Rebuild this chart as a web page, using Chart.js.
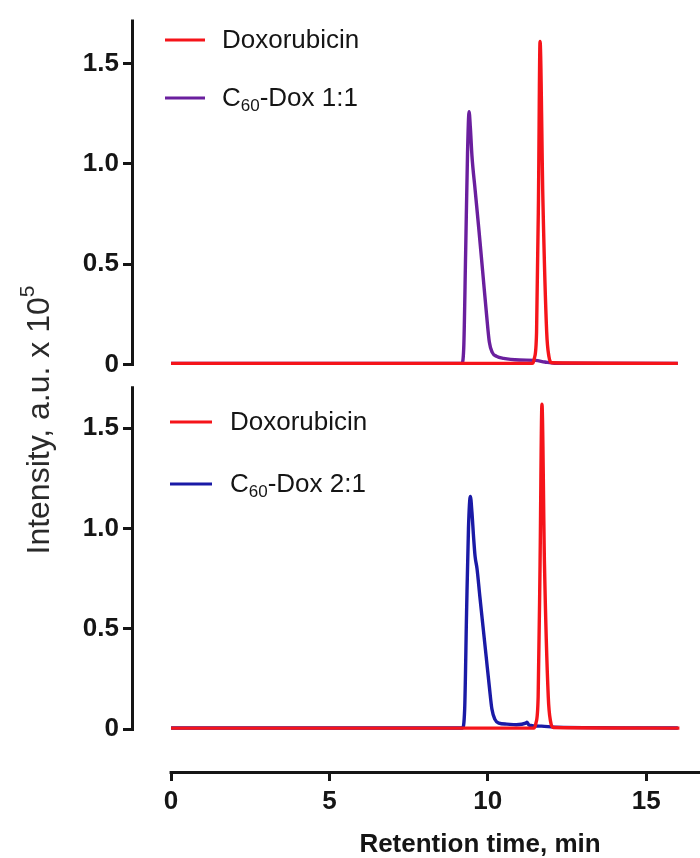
<!DOCTYPE html>
<html>
<head>
<meta charset="utf-8">
<script src="https://cdn.jsdelivr.net/npm/chart.js@4/dist/chart.umd.min.js"></script>
<style>
  html, body { margin: 0; padding: 0; background: #fff; }
  #wrap { position: relative; width: 700px; height: 858px; }
</style>
</head>
<body>
<div id="wrap"><canvas id="chart" width="700" height="858"></canvas></div>
<script>
// Retention time (min) / intensity (a.u. x 10^5)

// upper panel
const doxTopTime = [0, 11.40, 11.47, 11.54, 11.60, 11.65, 11.74, 11.86, 11.93, 12.02, 16.0];
const doxTopIntensity = [0.005, 0.005, 0.03, 0.16, 0.82, 1.61, 0.82, 0.16, 0.04, 0.008, 0.005];
const c60Dox11Time = [0, 9.18, 9.24, 9.30, 9.36, 9.41, 9.45, 9.50, 9.60, 9.72, 9.84, 9.96, 10.05, 10.14, 10.28, 10.50, 11.00, 11.50, 11.80, 12.10, 16.0];
const c60Dox11Intensity = [0.005, 0.005, 0.08, 0.55, 1.05, 1.26, 1.18, 1.04, 0.87, 0.67, 0.46, 0.25, 0.11, 0.06, 0.04, 0.03, 0.022, 0.02, 0.012, 0.006, 0.005];

// lower panel
const doxBotTime = [0, 11.45, 11.52, 11.59, 11.65, 11.71, 11.79, 11.91, 11.98, 12.07, 16.05];
const doxBotIntensity = [0.005, 0.005, 0.03, 0.16, 0.82, 1.62, 0.82, 0.16, 0.04, 0.008, 0.005];
const c60Dox21Time = [0, 9.20, 9.27, 9.33, 9.39, 9.45, 9.50, 9.55, 9.60, 9.66, 9.75, 9.85, 9.95, 10.05, 10.13, 10.22, 10.35, 10.60, 10.90, 11.20, 11.24, 11.30, 11.70, 12.10, 16.0];
const c60Dox21Intensity = [0.006, 0.006, 0.10, 0.58, 1.00, 1.16, 1.08, 0.96, 0.86, 0.80, 0.66, 0.51, 0.36, 0.21, 0.10, 0.05, 0.03, 0.025, 0.022, 0.03, 0.035, 0.02, 0.015, 0.01, 0.006];

const xTickValues = [0, 5, 10, 15];
const yTickValues = [0, 0.5, 1.0, 1.5];
const yTickLabels = ['0', '0.5', '1.0', '1.5'];

const RED = '#f5141a';
const PURPLE = '#6a1f9e';
const BLUE = '#1a1aa6';
const INK = '#151515';
const FONT = "'Liberation Sans', Arial, sans-serif";

function toPoints(times, values) {
    return times.map((t, i) => ({ x: t, y: values[i] }));
}

function series(label, times, values, color, axis) {
    return {
        label: label,
        data: toPoints(times, values),
        yAxisID: axis,
        borderColor: color,
        borderWidth: 3.4,
        pointRadius: 0,
        cubicInterpolationMode: 'monotone',
        fill: false
    };
}

// text with sub/superscript pieces: [text, kind] where kind is undefined, 'sub' or 'sup'
function drawRich(ctx, parts, x, y, size, weight) {
    let cx = x;
    parts.forEach(([txt, kind]) => {
        const s = kind ? Math.round(size * 0.66) : size;
        const dy = kind === 'sub' ? size * 0.28 : kind === 'sup' ? -size * 0.38 : 0;
        ctx.font = `${weight} ${s}px ${FONT}`;
        ctx.fillText(txt, cx, y + dy);
        cx += ctx.measureText(txt).width;
    });
    return cx - x;
}

function richWidth(ctx, parts, size, weight) {
    let w = 0;
    parts.forEach(([txt, kind]) => {
        const s = kind ? Math.round(size * 0.66) : size;
        ctx.font = `${weight} ${s}px ${FONT}`;
        w += ctx.measureText(txt).width;
    });
    return w;
}

const decor = {
    id: 'decor',
    afterDraw(chart) {
        const ctx = chart.ctx;
        const area = chart.chartArea;
        const x = chart.scales.x;
        const yTop = chart.scales.yTop;
        const yBot = chart.scales.yBot;
        ctx.save();

        // axis lines: each y axis runs from its top down to 0, x axis starts at 0
        ctx.strokeStyle = INK;
        ctx.lineWidth = 3;
        ctx.beginPath();
        ctx.moveTo(area.left - 1.5, yTop.getPixelForValue(1.719));
        ctx.lineTo(area.left - 1.5, yTop.getPixelForValue(0) + 1.5);
        ctx.moveTo(area.left - 1.5, yBot.getPixelForValue(1.709));
        ctx.lineTo(area.left - 1.5, yBot.getPixelForValue(0) + 1.5);
        ctx.moveTo(x.getPixelForValue(0) - 1.5, area.bottom + 1.5);
        ctx.lineTo(area.right, area.bottom + 1.5);
        ctx.stroke();

        // legends
        const legends = [
            { y: 40, x0: 165, x1: 205, tx: 222, color: RED, parts: [['Doxorubicin']] },
            { y: 98, x0: 165, x1: 205, tx: 222, color: PURPLE, parts: [['C'], ['60', 'sub'], ['-Dox 1:1']] },
            { y: 422, x0: 170, x1: 212, tx: 230, color: RED, parts: [['Doxorubicin']] },
            { y: 484, x0: 170, x1: 212, tx: 230, color: BLUE, parts: [['C'], ['60', 'sub'], ['-Dox 2:1']] }
        ];
        ctx.textBaseline = 'middle';
        ctx.textAlign = 'left';
        legends.forEach(l => {
            ctx.strokeStyle = l.color;
            ctx.lineWidth = 3;
            ctx.beginPath();
            ctx.moveTo(l.x0, l.y);
            ctx.lineTo(l.x1, l.y);
            ctx.stroke();
            ctx.fillStyle = INK;
            drawRich(ctx, l.parts, l.tx, l.y + 1, 26, 'normal');
        });

        // y title, rotated, shared by both panels
        const yTitle = [['Intensity, a.u. x 10'], ['5', 'sup']];
        ctx.save();
        ctx.translate(40, 420);
        ctx.rotate(-Math.PI / 2);
        ctx.fillStyle = '#2a2a2a';
        const w = richWidth(ctx, yTitle, 32, 'normal');
        drawRich(ctx, yTitle, -w / 2, 0, 32, 'normal');
        ctx.restore();

        // x title
        ctx.fillStyle = INK;
        ctx.font = `bold 26px ${FONT}`;
        ctx.textAlign = 'center';
        ctx.fillText('Retention time, min', 480, 845);
        ctx.restore();
    }
};

function yAxis(min, max, weight) {
    return {
        type: 'linear',
        position: 'left',
        stack: 'panels',
        stackWeight: weight,
        min: min,
        max: max,
        border: { display: false },
        grid: { drawOnChartArea: false, drawTicks: true, tickLength: 11, tickWidth: 3, tickColor: INK },
        ticks: {
            color: INK,
            padding: 4,
            font: { family: FONT, size: 26, weight: 'bold' },
            callback: (v, i) => yTickLabels[i]
        },
        afterBuildTicks: s => { s.ticks = yTickValues.map(v => ({ value: v })); },
        afterFit: s => { s.width = 134; }
    };
}

new Chart(document.getElementById('chart'), {
    type: 'line',
    data: {
        datasets: [
            series('Doxorubicin', doxTopTime, doxTopIntensity, RED, 'yTop'),
            series('Doxorubicin', doxBotTime, doxBotIntensity, RED, 'yBot'),
            series('C60-Dox 1:1', c60Dox11Time, c60Dox11Intensity, PURPLE, 'yTop'),
            series('C60-Dox 2:1', c60Dox21Time, c60Dox21Intensity, BLUE, 'yBot')
        ]
    },
    options: {
        responsive: false,
        animation: false,
        devicePixelRatio: 1,
        layout: { padding: { top: 17, left: 0, right: 0, bottom: 0 } },
        plugins: {
            legend: { display: false },
            tooltip: { enabled: false }
        },
        scales: {
            x: {
                type: 'linear',
                min: -1.17,
                max: 16.70,
                border: { display: false },
                grid: { drawOnChartArea: false, drawTicks: true, tickLength: 10, tickWidth: 3, tickColor: INK },
                ticks: {
                    color: INK,
                    padding: 5,
                    maxRotation: 0,
                    autoSkip: false,
                    font: { family: FONT, size: 26, weight: 'bold' },
                    callback: v => String(v)
                },
                afterBuildTicks: s => { s.ticks = xTickValues.map(v => ({ value: v })); },
                afterFit: s => { s.height = 87; }
            },
            yBot: yAxis(-0.2086, 1.7486, 394),
            yTop: yAxis(-0.0695, 1.7188, 360)
        }
    },
    plugins: [decor]
});
</script>
</body>
</html>
